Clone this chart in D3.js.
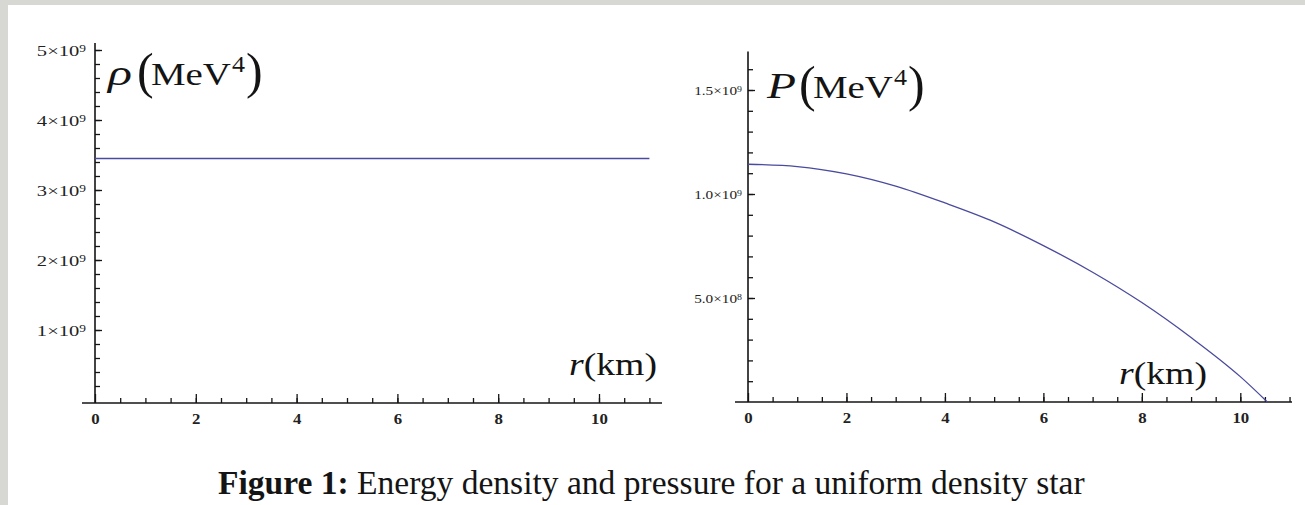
<!DOCTYPE html>
<html><head><meta charset="utf-8">
<script src="https://cdnjs.cloudflare.com/ajax/libs/d3/7.8.5/d3.min.js"></script>
<style>html,body{margin:0;padding:0;background:#fff;}svg{display:block;}</style>
</head><body>
<script>
// ---- data ----
const rhoR = [0, 11];
const rhoVals = [3.45e9, 3.45e9];
const presR = [0, 1, 2, 3, 4, 5, 6, 7, 8, 9, 10, 10.55];
const presVals = [1.143e9, 1.132e9, 1.097e9, 1.038e9, 0.957e9, 0.866e9, 0.752e9, 0.624e9, 0.478e9, 0.31e9, 0.122e9, 0];
const xTicks = [0, 2, 4, 6, 8, 10];
const xTickLabels = ["0", "2", "4", "6", "8", "10"];
const leftYTicks = [1e9, 2e9, 3e9, 4e9, 5e9];
const leftYMant = ["1", "2", "3", "4", "5"];
const leftYExp = ["9", "9", "9", "9", "9"];
const rightYTicks = [5e8, 1e9, 1.5e9];
const rightYMant = ["5.0", "1.0", "1.5"];
const rightYExp = ["8", "9", "9"];
const caption = ["Figure 1:", " Energy density and pressure for a uniform density star"];

const W = 1305, H = 505;
const svg = d3.select("body").append("svg").attr("width", W).attr("height", H);
svg.append("rect").attr("width", W).attr("height", H).attr("fill", "#d7d7d3");
svg.append("rect").attr("x", 8).attr("y", 5).attr("width", W - 8).attr("height", H - 5).attr("fill", "#ffffff");

const serif = "'Liberation Serif', 'Times New Roman', serif";
const lineColor = "#4a4a9e";
const ink = "#141414";

// place a text piece and stretch it horizontally to a target width (about its start)
function piece(g, str, x, y, size, italic, targetW) {
  const t = g.append("text").attr("x", 0).attr("y", 0).attr("font-family", serif)
    .attr("font-size", size).attr("fill", ink).attr("font-style", italic ? "italic" : "normal").text(str);
  const sx = targetW ? targetW / t.node().getComputedTextLength() : 1;
  t.attr("transform", `translate(${x},${y}) scale(${sx},1)`);
  return t;
}

function panel(cfg) {
  const x = d3.scaleLinear().domain(cfg.xDomain).range(cfg.xRange);
  const y = d3.scaleLinear().domain(cfg.yDomain).range(cfg.yRange);
  const g = svg.append("g");
  const x0 = x(0), yAxisPos = y(cfg.xAxisAt);
  // minor ticks x
  g.append("g").attr("transform", `translate(0,${yAxisPos})`)
    .call(d3.axisBottom(x).tickValues(cfg.xMinor).tickSize(-5).tickFormat(""))
    .call(s => s.select(".domain").remove())
    .selectAll("line").attr("stroke", ink).attr("stroke-width", 1.3);
  const xa = g.append("g").attr("transform", `translate(0,${yAxisPos})`)
    .call(d3.axisBottom(x).tickValues(xTicks).tickSize(-9).tickPadding(10).tickFormat((d, i) => xTickLabels[i]))
    .call(s => s.select(".domain").remove());
  xa.selectAll("line").attr("stroke", ink).attr("stroke-width", 1.3);
  xa.selectAll("text").attr("font-family", serif).attr("font-size", 15).attr("fill", "#222")
    .attr("font-weight", "bold").attr("transform", "scale(1.12,1)");
  // minor ticks y
  g.append("g").attr("transform", `translate(${x0},0)`)
    .call(d3.axisLeft(y).tickValues(cfg.yMinor).tickSize(-5).tickFormat(""))
    .call(s => s.select(".domain").remove())
    .selectAll("line").attr("stroke", ink).attr("stroke-width", 1.3);
  const ya = g.append("g").attr("transform", `translate(${x0},0)`)
    .call(d3.axisLeft(y).tickValues(cfg.yTicks).tickSize(-7).tickFormat(""))
    .call(s => s.select(".domain").remove());
  ya.selectAll("line").attr("stroke", ink).attr("stroke-width", 1.3);
  ya.selectAll(".tick text").each(function (d, i) {
    const t = d3.select(this).attr("font-family", serif).attr("font-size", cfg.tickFont).attr("fill", "#222")
      .attr("x", 0).attr("dy", "0.38em").attr("text-anchor", "end")
      .attr("transform", `translate(${-cfg.tickPad},0) scale(${cfg.tickScale},1)`);
    t.append("tspan").text(cfg.yMant[i] + "\u00d710");
    t.append("tspan").attr("dy", "-0.45em").attr("font-size", cfg.tickFont * 0.65).text(cfg.yExp[i]);
  });
  // axis lines
  g.append("line").attr("x1", x0 - 13).attr("x2", cfg.xRange[1]).attr("y1", yAxisPos).attr("y2", yAxisPos)
    .attr("stroke", ink).attr("stroke-width", 1.6);
  g.append("line").attr("x1", x0).attr("x2", x0).attr("y1", yAxisPos).attr("y2", y(cfg.yTop))
    .attr("stroke", ink).attr("stroke-width", 1.6);
  // data line
  const line = d3.line().x((d, i) => x(cfg.r[i])).y(d => y(d)).curve(d3.curveMonotoneX);
  g.append("path").datum(cfg.v).attr("d", line).attr("fill", "none")
    .attr("stroke", lineColor).attr("stroke-width", 1.3);
  // y label pieces
  const L = cfg.yl;
  piece(g, cfg.yLabelSym, L.sym[0], L.base, L.symSize, true, L.sym[1]);
  piece(g, "(", L.lp, L.base + 3, 50, false, 0);
  piece(g, "MeV", L.mev[0], L.base, 31, false, L.mev[1]);
  piece(g, "4", L.sup, L.base - 13, 23, false, 13);
  piece(g, ")", L.rp, L.base + 3, 50, false, 0);
  // x label
  const xl = g.append("text").attr("font-family", serif).attr("fill", ink).attr("font-size", 32);
  xl.append("tspan").attr("font-style", "italic").text("r");
  xl.append("tspan").text("(km)");
  const sx = 88 / xl.node().getComputedTextLength();
  xl.attr("transform", `translate(${cfg.xLabelPos[0]},${cfg.xLabelPos[1]}) scale(${sx},1)`);
}

panel({
  xDomain: [0, 11.25], xRange: [95, 662],
  yDomain: [0, 5e9], yRange: [400, 50], xAxisAt: -0.043e9, yTop: 5.1e9,
  xMinor: d3.range(1, 23).map(k => k * 0.5),
  yMinor: d3.range(1, 26).map(k => k * 0.2e9),
  yTicks: leftYTicks, yMant: leftYMant, yExp: leftYExp,
  tickFont: 14.5, tickScale: 1.42, tickPad: 9,
  r: rhoR, v: rhoVals,
  yLabelSym: "\u03c1", yl: { base: 85, sym: [108, 24], symSize: 36, lp: 137, mev: [151, 80], sup: 232, rp: 246 },
  xLabelPos: [569, 375]
});
panel({
  xDomain: [0, 11.05], xRange: [748, 1292],
  yDomain: [0, 1.5e9], yRange: [402, 90], xAxisAt: 0, yTop: 1.685e9,
  xMinor: d3.range(1, 23).map(k => k * 0.5),
  yMinor: d3.range(1, 17).map(k => k * 0.1e9),
  yTicks: rightYTicks, yMant: rightYMant, yExp: rightYExp,
  tickFont: 12.5, tickScale: 1.22, tickPad: 6,
  r: presR, v: presVals,
  yLabelSym: "P", yl: { base: 98, sym: [767, 29], symSize: 36, lp: 799, mev: [813, 80], sup: 894, rp: 908 },
  xLabelPos: [1119, 384]
});

// caption
const cap = svg.append("text").attr("x", 218).attr("y", 494).attr("font-family", serif)
  .attr("font-size", 24).attr("fill", ink);
cap.append("tspan").attr("font-weight", "bold").text(caption[0]);
cap.append("tspan").text(caption[1]);
const wNow = cap.node().getComputedTextLength();
cap.attr("font-size", 24 * 867 / wNow);
</script>
</body></html>
